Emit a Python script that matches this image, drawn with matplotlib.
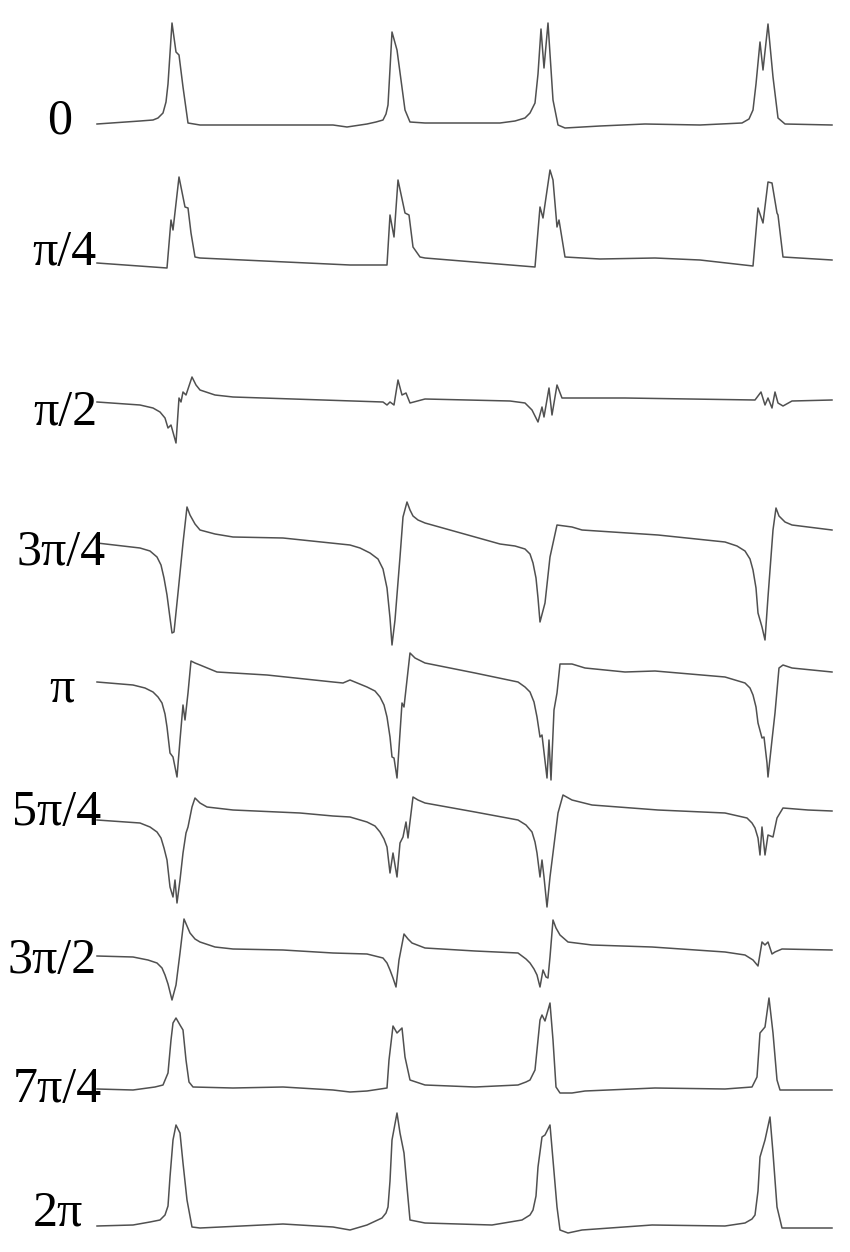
import matplotlib
matplotlib.use("Agg")
from matplotlib import pyplot as plt

# phase labels, one trace per phase
labels = ["0", "π/4", "π/2", "3π/4", "π", "5π/4", "3π/2", "7π/4", "2π"]

# traces: (time, amplitude) pairs, amplitude up is positive
phase_0 = [(97, 0), (140, 3), (153, 4), (158, 6), (163, 11), (166, 22), (168, 40), (172, 101),
           (176, 72), (179, 69), (183, 37), (188, 1), (200, -1), (260, -1), (333, -1), (347, -3),
           (367, 0), (376, 2), (383, 4), (386, 10), (388, 19), (390, 55), (392, 92), (397, 74),
           (401, 44), (405, 14), (410, 2), (425, 1), (500, 1), (515, 3), (525, 6), (530, 11),
           (535, 21), (538, 50), (541, 95), (544, 56), (548, 101), (553, 24), (558, -1), (565, -4),
           (600, -2), (645, 0), (700, -1), (742, 1), (749, 5), (753, 14), (756, 40), (760, 82),
           (763, 54), (768, 100), (773, 47), (778, 6), (785, 0), (832, -1)]
phase_1 = [(97, 0), (167, -5), (171, 43), (173, 33), (179, 86), (185, 56), (188, 55), (191, 30),
           (195, 6), (200, 5), (350, -2), (387, -2), (390, 48), (394, 26), (398, 83), (405, 50),
           (409, 48), (413, 16), (420, 6), (425, 5), (535, -4), (540, 56), (543, 45), (550, 93),
           (553, 83), (557, 36), (559, 43), (565, 6), (600, 4), (655, 5), (700, 3), (753, -3),
           (758, 55), (763, 40), (768, 81), (772, 80), (777, 50), (778, 48), (783, 6), (832, 3)]
phase_2 = [(97, 0), (140, -3), (153, -6), (160, -10), (165, -16), (168, -26), (171, -23), (176, -41),
           (179, 4), (181, 0), (183, 10), (186, 7), (192, 25), (196, 17), (200, 12), (215, 7),
           (233, 5), (383, 0), (387, -3), (390, 0), (394, -3), (398, 22), (402, 7), (406, 9),
           (410, -1), (425, 3), (510, 1), (525, -1), (532, -8), (538, -20), (542, -5), (544, -15),
           (549, 14), (552, -13), (557, 17), (562, 4), (625, 4), (755, 2), (761, 10), (765, -3),
           (768, 4), (772, -6), (775, 10), (778, -1), (783, -4), (792, 1), (832, 2)]
phase_3 = [(97, 0), (140, -5), (150, -8), (157, -14), (161, -22), (164, -35), (167, -52), (170, -75),
           (172, -90), (174, -89), (178, -50), (183, 0), (187, 36), (190, 28), (195, 19), (200, 13),
           (215, 9), (233, 6), (283, 5), (350, -2), (360, -5), (370, -10), (378, -16), (383, -26),
           (387, -45), (390, -75), (392, -102), (395, -77), (400, -14), (403, 26), (407, 41), (410, 33),
           (413, 27), (418, 23), (425, 20), (500, -1), (515, -3), (525, -6), (530, -11), (533, -20),
           (536, -35), (538, -55), (540, -79), (545, -60), (550, -14), (557, 18), (572, 16), (582, 13),
           (658, 8), (725, 1), (737, -3), (745, -8), (750, -16), (753, -27), (756, -45), (758, -70),
           (762, -84), (765, -97), (768, -54), (773, 13), (776, 35), (779, 27), (785, 21), (792, 18),
           (832, 13)]
phase_4 = [(97, 0), (133, -3), (145, -6), (153, -10), (158, -15), (162, -21), (165, -32), (167, -45),
           (170, -71), (173, -75), (177, -95), (180, -58), (183, -23), (185, -38), (188, -11), (191, 21),
           (195, 19), (200, 17), (217, 10), (267, 7), (333, 0), (343, -1), (350, 2), (367, -5),
           (375, -9), (380, -15), (384, -23), (387, -35), (390, -55), (392, -75), (394, -76), (397, -96),
           (400, -51), (402, -21), (404, -25), (410, 29), (415, 24), (425, 19), (475, 9), (518, 0),
           (525, -5), (530, -10), (534, -20), (537, -35), (540, -55), (542, -53), (547, -96), (549, -58),
           (551, -98), (554, -28), (557, -11), (560, 18), (572, 18), (585, 14), (625, 10), (655, 11),
           (725, 5), (745, -1), (750, -6), (753, -13), (756, -25), (758, -41), (762, -56), (764, -55),
           (767, -81), (768, -95), (772, -58), (775, -31), (779, 14), (783, 17), (792, 14), (832, 10)]
phase_5 = [(97, 0), (140, -3), (150, -7), (157, -12), (161, -18), (164, -28), (167, -40), (170, -67),
           (173, -77), (175, -60), (177, -83), (180, -60), (183, -33), (186, -13), (188, -7), (192, 13),
           (195, 22), (200, 17), (207, 13), (233, 10), (300, 7), (333, 4), (350, 3), (367, -2),
           (375, -6), (380, -12), (384, -19), (387, -27), (390, -53), (393, -33), (397, -57), (400, -23),
           (403, -17), (406, -2), (408, -18), (413, 23), (418, 20), (425, 17), (475, 8), (518, 0),
           (526, -5), (532, -12), (535, -22), (537, -33), (540, -57), (542, -40), (544, -57), (547, -87),
           (550, -57), (555, -17), (558, 7), (563, 25), (572, 20), (592, 15), (658, 10), (725, 7),
           (747, 2), (752, -3), (755, -8), (758, -18), (760, -35), (762, -7), (765, -35), (768, -15),
           (773, -17), (777, 2), (783, 12), (808, 10), (832, 9)]
phase_6 = [(97, 0), (133, -1), (148, -4), (157, -7), (162, -12), (165, -19), (168, -28), (172, -44),
           (176, -29), (180, 3), (184, 37), (187, 30), (190, 23), (195, 17), (200, 14), (215, 9),
           (233, 7), (283, 6), (333, 3), (367, 2), (383, -2), (387, -7), (390, -14), (393, -22),
           (396, -31), (399, -4), (404, 22), (408, 17), (412, 13), (425, 8), (475, 5), (518, 3),
           (526, -3), (530, -7), (534, -13), (537, -19), (540, -31), (543, -14), (546, -21), (548, -22),
           (550, -1), (553, 36), (556, 28), (560, 21), (568, 14), (592, 11), (652, 9), (725, 4),
           (745, 1), (753, -4), (758, -10), (762, 14), (765, 11), (768, 14), (772, 2), (775, 4),
           (782, 7), (832, 6)]
phase_7 = [(97, 0), (133, -1), (155, 2), (163, 4), (168, 16), (171, 49), (173, 66), (176, 71),
           (180, 64), (183, 59), (186, 29), (189, 7), (193, 2), (233, 1), (283, 2), (333, -1),
           (350, -3), (367, -2), (387, 1), (389, 29), (393, 63), (397, 56), (402, 61), (405, 32),
           (410, 9), (425, 4), (475, 2), (518, 4), (526, 7), (530, 9), (535, 19), (538, 49),
           (540, 69), (542, 74), (545, 68), (550, 86), (553, 49), (556, 2), (560, -4), (572, -4),
           (585, -2), (655, 1), (725, 0), (752, 2), (757, 12), (760, 56), (765, 62), (769, 91),
           (773, 56), (777, 9), (780, -1), (832, -1)]
phase_8 = [(97, 0), (133, 1), (150, 4), (160, 6), (165, 11), (168, 20), (170, 49), (173, 86),
           (176, 101), (180, 93), (183, 63), (187, 26), (192, -1), (200, -2), (283, 2), (333, -1),
           (350, -4), (367, 1), (382, 8), (386, 13), (388, 19), (390, 45), (392, 86), (397, 113),
           (400, 93), (404, 73), (407, 39), (410, 6), (425, 3), (492, 1), (522, 6), (530, 11),
           (533, 16), (536, 30), (538, 59), (542, 89), (545, 91), (550, 101), (553, 66), (557, 19),
           (560, -4), (568, -7), (582, -4), (652, 1), (725, 0), (745, 3), (752, 7), (755, 11),
           (758, 35), (760, 69), (765, 86), (770, 109), (773, 73), (777, 19), (782, -2), (832, -2)]

traces = [phase_0, phase_1, phase_2, phase_3, phase_4, phase_5, phase_6, phase_7, phase_8]

# layout: baseline row of each trace, label left edge and label baseline (figure pixels)
base_rows = [124, 263, 402, 543, 682, 820, 956, 1089, 1226]
label_x = [47, 32, 33, 17, 49, 12, 8, 13, 33]
label_y = [133, 265, 425, 565, 702, 825, 973, 1102, 1225]

fig = plt.figure(figsize=(8.5, 12.52), dpi=100)
ax = fig.add_axes([0, 0, 1, 1])
ax.set_xlim(0, 850)
ax.set_ylim(1252, 0)
ax.axis("off")

for tr, row in zip(traces, base_rows):
    t = [p[0] for p in tr]
    v = [row - p[1] for p in tr]
    ax.plot(t, v, color="#505050", lw=1.1, solid_joinstyle="round")

for lab, lx, ly in zip(labels, label_x, label_y):
    ax.text(lx, ly, lab, ha="left", va="baseline", fontsize=36,
            family=["Liberation Serif", "DejaVu Serif"], color="black")

fig.savefig("out.png", dpi=100, facecolor="white")
